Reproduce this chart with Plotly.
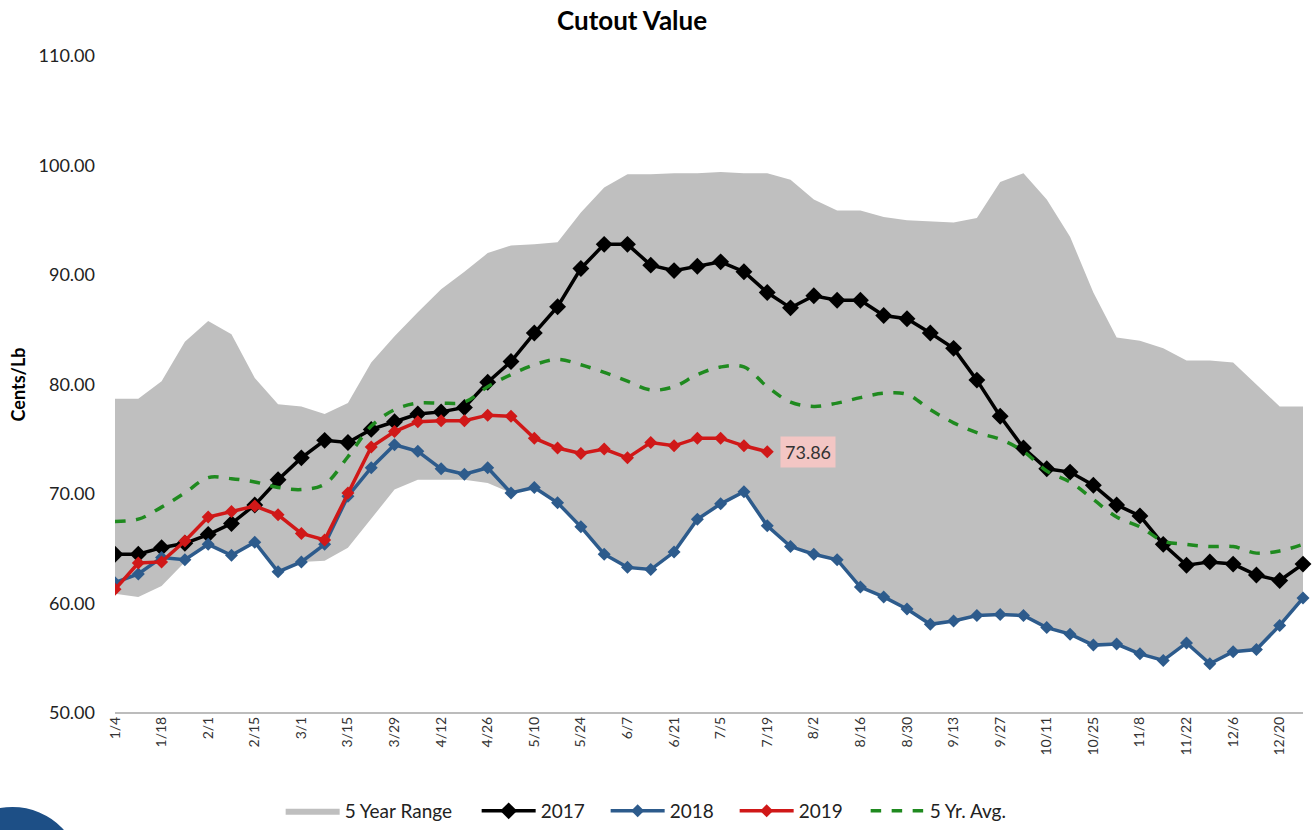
import plotly.graph_objects as go

# semanas (viernes) del año
weeks = ["1/4", "1/11", "1/18", "1/25", "2/1", "2/8", "2/15", "2/22", "3/1", "3/8",
         "3/15", "3/22", "3/29", "4/5", "4/12", "4/19", "4/26", "5/3", "5/10", "5/17",
         "5/24", "5/31", "6/7", "6/14", "6/21", "6/28", "7/5", "7/12", "7/19", "7/26",
         "8/2", "8/9", "8/16", "8/23", "8/30", "9/6", "9/13", "9/20", "9/27", "10/4",
         "10/11", "10/18", "10/25", "11/1", "11/8", "11/15", "11/22", "11/29", "12/6", "12/13",
         "12/20", "12/27"]

range_high = [78.7, 78.7, 80.3, 83.9, 85.8, 84.6, 80.6, 78.2, 78.0, 77.3,
              78.3, 82.0, 84.4, 86.6, 88.7, 90.3, 92.0, 92.7, 92.8, 93.0,
              95.7, 98.0, 99.2, 99.2, 99.3, 99.3, 99.4, 99.3, 99.3, 98.7,
              96.9, 95.9, 95.9, 95.3, 95.0, 94.9, 94.8, 95.2, 98.5, 99.3,
              96.9, 93.5, 88.4, 84.3, 84.0, 83.3, 82.2, 82.2, 82.0, 80.0,
              78.0, 78.0]
range_low = [60.9, 60.6, 61.6, 63.8, 65.4, 64.4, 65.6, 62.9, 63.8, 63.9,
             65.1, 67.7, 70.4, 71.3, 71.3, 71.3, 71.0, 70.1, 70.6, 69.2,
             67.0, 64.5, 63.3, 63.1, 64.7, 67.7, 69.1, 70.2, 67.1, 65.2,
             64.5, 64.0, 61.5, 60.6, 59.5, 58.1, 58.4, 58.9, 59.0, 58.9,
             57.8, 57.2, 56.2, 56.3, 55.4, 54.8, 56.4, 54.5, 55.6, 55.8,
             58.0, 60.5]
y2017 = [64.5, 64.5, 65.1, 65.5, 66.3, 67.3, 69.0, 71.3, 73.3, 74.9,
         74.7, 75.9, 76.6, 77.3, 77.5, 77.9, 80.2, 82.1, 84.7, 87.1,
         90.6, 92.8, 92.8, 90.9, 90.4, 90.8, 91.2, 90.3, 88.4, 87.0,
         88.1, 87.7, 87.7, 86.3, 86.0, 84.7, 83.3, 80.4, 77.1, 74.2,
         72.3, 72.0, 70.8, 69.0, 68.0, 65.4, 63.5, 63.8, 63.6, 62.6,
         62.1, 63.6]
y2018 = [61.9, 62.7, 64.2, 64.0, 65.4, 64.4, 65.6, 62.9, 63.8, 65.4,
         69.8, 72.4, 74.5, 73.9, 72.3, 71.8, 72.4, 70.1, 70.6, 69.2,
         67.0, 64.5, 63.3, 63.1, 64.7, 67.7, 69.1, 70.2, 67.1, 65.2,
         64.5, 64.0, 61.5, 60.6, 59.5, 58.1, 58.4, 58.9, 59.0, 58.9,
         57.8, 57.2, 56.2, 56.3, 55.4, 54.8, 56.4, 54.5, 55.6, 55.8,
         58.0, 60.5]
y2019 = [61.3, 63.7, 63.8, 65.7, 67.9, 68.4, 68.9, 68.1, 66.4, 65.8,
         70.1, 74.3, 75.7, 76.6, 76.7, 76.7, 77.2, 77.1, 75.1, 74.2,
         73.7, 74.1, 73.3, 74.7, 74.4, 75.1, 75.1, 74.4, 73.86]
avg5 = [67.5, 67.7, 68.8, 70.1, 71.5, 71.4, 71.1, 70.6, 70.4, 70.9,
        73.4, 76.2, 77.7, 78.3, 78.3, 78.4, 79.8, 80.9, 81.8, 82.3,
        81.8, 81.1, 80.3, 79.5, 79.8, 80.9, 81.6, 81.6, 79.8, 78.4,
        78.0, 78.3, 78.8, 79.2, 79.1, 77.7, 76.5, 75.6, 75.0, 73.9,
        72.1, 71.1, 69.5, 67.9, 67.0, 65.7, 65.4, 65.2, 65.2, 64.6,
        64.8, 65.4]

FONT = "Lato"

fig = go.Figure()

# banda del rango de 5 años
fig.add_trace(go.Scatter(x=weeks, y=range_low, mode="lines", line=dict(width=0, color="#bfbfbf"),
                         showlegend=False, hoverinfo="skip"))
fig.add_trace(go.Scatter(x=weeks, y=range_high, mode="lines", line=dict(width=0, color="#bfbfbf"),
                         fill="tonexty", fillcolor="#bfbfbf", name="5 Year Range", legendwidth=127))

fig.add_trace(go.Scatter(x=weeks, y=y2017, mode="lines+markers", name="2017", legendwidth=60,
                         line=dict(color="#000000", width=3.5),
                         marker=dict(symbol="diamond", size=13, color="#000000")))
fig.add_trace(go.Scatter(x=weeks, y=y2018, mode="lines+markers", name="2018", legendwidth=60,
                         line=dict(color="#2d5b8c", width=3.5),
                         marker=dict(symbol="diamond", size=10, color="#2d5b8c")))
fig.add_trace(go.Scatter(x=weeks[:len(y2019)], y=y2019, mode="lines+markers", name="2019",
                         legendwidth=62,
                         line=dict(color="#d01818", width=3.5),
                         marker=dict(symbol="diamond", size=10, color="#d01818")))
fig.add_trace(go.Scatter(x=weeks, y=avg5, mode="lines", name="5 Yr. Avg.", line_shape="spline",
                         line=dict(color="#1f8a1f", width=3.5, dash="dash")))

# etiqueta del último valor
fig.add_annotation(x=weeks[len(y2019) - 1], y=y2019[-1], text=f"{y2019[-1]:.2f}",
                   xanchor="left", yanchor="middle", xshift=13, showarrow=False,
                   bgcolor="#f3c6c4", borderpad=4,
                   font=dict(family=FONT, size=18, color="#333333"))

# título del eje y
fig.add_annotation(x=-0.081, y=0.5, xref="paper", yref="paper", text="<b>Cents/Lb</b>",
                   xanchor="center", yanchor="middle",
                   textangle=-90, showarrow=False, font=dict(family=FONT, size=18, color="#000000"))

# línea del eje x (solo hasta la última semana)
fig.add_shape(type="line", xref="x", yref="paper", x0=0, x1=len(weeks) - 1, y0=0, y1=0,
              line=dict(color="#a6a6a6", width=1.5))

# logo (círculo azul recortado)
fig.add_shape(type="circle", xref="paper", yref="paper", x0=-0.144, x1=-0.027, y0=-0.362, y1=-0.143,
              fillcolor="#1d4f86", line=dict(width=0), layer="above")

fig.update_layout(
    width=1314, height=830,
    title=dict(text="<b>Cutout Value</b>", x=0.481, xanchor="center", y=0.975, yanchor="middle",
               font=dict(family=FONT, size=26, color="#000000")),
    plot_bgcolor="white", paper_bgcolor="white",
    margin=dict(l=115, r=0, t=56, b=116),
    font=dict(family=FONT, color="#222222"),
    xaxis=dict(type="category", range=[0, len(weeks) - 1 + 11 / 23.3], tickmode="array",
               tickvals=weeks[::2], ticktext=weeks[::2], tickangle=-90,
               tickfont=dict(size=14, color="#333333"), showgrid=False, zeroline=False,
               showline=False, ticks="", automargin=False),
    yaxis=dict(range=[50, 110], dtick=10, tickformat=".2f", showgrid=False, zeroline=False,
               showline=False, tickfont=dict(size=18, color="#222222"), ticks="",
               ticklabelstandoff=19, automargin=False),
    legend=dict(orientation="h", x=0.443, xanchor="center", y=-0.149, yanchor="middle",
                font=dict(family=FONT, size=19, color="#222222"), itemwidth=54,
                traceorder="normal"),
    showlegend=True,
)

# quitar el margen del body para que la figura ocupe la ventana
fig.write_html("out.html", config={"displayModeBar": False},
               post_script="document.body.style.margin='0';")
